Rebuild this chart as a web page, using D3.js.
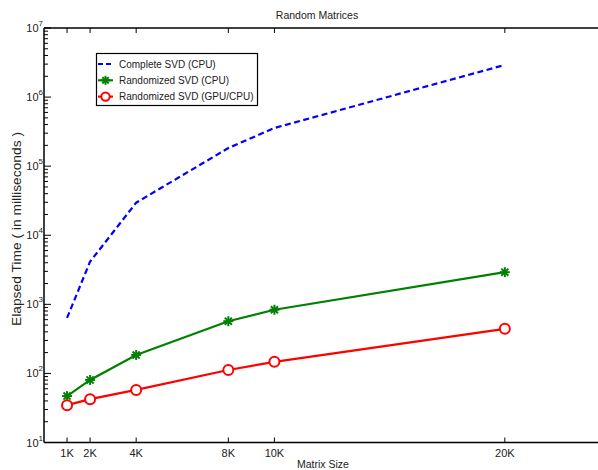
<!DOCTYPE html>
<html>
<head>
<meta charset="utf-8">
<script src="https://cdn.jsdelivr.net/npm/d3@7"></script>
<style>
  html, body { margin: 0; padding: 0; background: #fff; }
  svg { display: block; font-family: "Liberation Sans", Arial, sans-serif; }
</style>
</head>
<body>
<svg id="chart" width="598" height="470"></svg>
<script>
// Matrix sizes and timings in milliseconds
const sizes = [1000, 2000, 4000, 8000, 10000, 20000];
const sizeLabels = ["1K", "2K", "4K", "8K", "10K", "20K"];
const completeCPU = [635, 4150, 29600, 183000, 357000, 2920000];
const randomizedCPU = [47, 80.5, 185, 570, 835, 2920];
const randomizedGPU = [34.7, 42.4, 57.7, 112, 147, 442];
const yDecades = [1, 2, 3, 4, 5, 6, 7];

const svg = d3.select("#chart");
const plotL = 44, plotR = 597, plotT = 28, plotB = 442.5;

const x = d3.scaleLinear().domain([0, 24000]).range([plotL, plotR]);
const y = d3.scaleLog().domain([10, 1e7]).range([plotB, plotT]);

// y ticks: minor log ticks plus major decades
const minor = [];
for (let e = 1; e < 7; e++) for (let m = 2; m <= 9; m++) minor.push(m * Math.pow(10, e));

const g = svg.append("g");
g.selectAll(".ymin").data(minor).enter().append("line")
  .attr("x1", plotL).attr("x2", plotL + 4)
  .attr("y1", d => y(d)).attr("y2", d => y(d))
  .attr("stroke", "#000").attr("stroke-width", 1);
g.selectAll(".ymaj").data(yDecades).enter().append("line")
  .attr("x1", plotL).attr("x2", plotL + 7)
  .attr("y1", d => y(Math.pow(10, d))).attr("y2", d => y(Math.pow(10, d)))
  .attr("stroke", "#000").attr("stroke-width", 1);

// y tick labels as 10^n
const yl = g.selectAll(".ylab").data(yDecades).enter().append("text")
  .attr("x", 43).attr("y", d => y(Math.pow(10, d)) + 4)
  .attr("text-anchor", "end").attr("font-size", 11).attr("fill", "#222");
yl.append("tspan").text("10");
yl.append("tspan").attr("dy", -6).attr("font-size", 8).text(d => d);

// x ticks at bottom (pointing up) and top (pointing down)
g.selectAll(".xb").data(sizes).enter().append("line")
  .attr("x1", d => x(d)).attr("x2", d => x(d))
  .attr("y1", plotB).attr("y2", plotB - 5)
  .attr("stroke", "#000").attr("stroke-width", 1);
g.selectAll(".xt").data(sizes).enter().append("line")
  .attr("x1", d => x(d)).attr("x2", d => x(d))
  .attr("y1", plotT).attr("y2", plotT + 5)
  .attr("stroke", "#000").attr("stroke-width", 1);
g.selectAll(".xlab").data(sizes).enter().append("text")
  .attr("x", d => x(d)).attr("y", 457)
  .attr("text-anchor", "middle").attr("font-size", 11).attr("fill", "#222")
  .text((d, i) => sizeLabels[i]);

// axes frame (left, bottom, top)
g.append("line").attr("x1", plotL).attr("x2", plotL).attr("y1", plotT).attr("y2", plotB)
  .attr("stroke", "#000").attr("stroke-width", 1.5);
g.append("line").attr("x1", plotL).attr("x2", 598).attr("y1", plotB).attr("y2", plotB)
  .attr("stroke", "#000").attr("stroke-width", 1.5);
g.append("line").attr("x1", plotL).attr("x2", 598).attr("y1", plotT).attr("y2", plotT)
  .attr("stroke", "#000").attr("stroke-width", 1.5);

// titles
svg.append("text").attr("x", 317).attr("y", 19).attr("text-anchor", "middle")
  .attr("font-size", 10.5).attr("fill", "#222")
  .text("Random Matrices");
svg.append("text").attr("x", 323).attr("y", 468).attr("text-anchor", "middle")
  .attr("font-size", 10.5).attr("fill", "#222")
  .text("Matrix Size");
svg.append("text").attr("transform", "translate(21,229) rotate(-90)")
  .attr("text-anchor", "middle").attr("font-size", 12).attr("fill", "#222")
  .attr("textLength", 194).attr("lengthAdjust", "spacingAndGlyphs")
  .text("Elapsed Time ( in milliseconds )");

const line = d3.line().x(d => x(d[0])).y(d => y(d[1]));

// Complete SVD (dashed blue)
svg.append("path").datum(sizes.map((s, i) => [s, completeCPU[i]]))
  .attr("d", line).attr("fill", "none").attr("stroke", "#0000ff")
  .attr("stroke-width", 2.2).attr("stroke-dasharray", "6,3.5");

// asterisk marker
function star(sel, cx, cy, r) {
  const gg = sel.append("g").attr("transform", `translate(${cx},${cy})`);
  for (let k = 0; k < 4; k++) {
    const a = k * Math.PI / 4;
    gg.append("line")
      .attr("x1", -r * Math.cos(a)).attr("y1", -r * Math.sin(a))
      .attr("x2", r * Math.cos(a)).attr("y2", r * Math.sin(a))
      .attr("stroke", "#008000").attr("stroke-width", 2);
  }
}

// Randomized SVD CPU (green, asterisks)
svg.append("path").datum(sizes.map((s, i) => [s, randomizedCPU[i]]))
  .attr("d", line).attr("fill", "none").attr("stroke", "#008000").attr("stroke-width", 2.2);
sizes.forEach((s, i) => star(svg, x(s), y(randomizedCPU[i]), 5));

// Randomized SVD GPU/CPU (red, circles)
svg.append("path").datum(sizes.map((s, i) => [s, randomizedGPU[i]]))
  .attr("d", line).attr("fill", "none").attr("stroke", "#ff0000").attr("stroke-width", 2.2);
svg.selectAll(".rc").data(sizes).enter().append("circle")
  .attr("cx", d => x(d)).attr("cy", (d, i) => y(randomizedGPU[i])).attr("r", 5)
  .attr("fill", "#fff").attr("stroke", "#ff0000").attr("stroke-width", 2);

// legend
const lg = svg.append("g");
lg.append("rect").attr("x", 96.5).attr("y", 53.5).attr("width", 161).attr("height", 52)
  .attr("fill", "#fff").attr("stroke", "#000").attr("stroke-width", 1.2);
const entries = [
  { label: "Complete SVD (CPU)", color: "#0000ff", dash: "5,3", mark: null },
  { label: "Randomized SVD (CPU)", color: "#008000", dash: null, mark: "star" },
  { label: "Randomized SVD (GPU/CPU)", color: "#ff0000", dash: null, mark: "circle" }
];
entries.forEach((e, i) => {
  const ey = 64 + i * 16.3;
  lg.append("line").attr("x1", 98).attr("x2", 113).attr("y1", ey).attr("y2", ey)
    .attr("stroke", e.color).attr("stroke-width", 2.2)
    .attr("stroke-dasharray", e.dash);
  if (e.mark === "star") star(lg, 105.5, ey, 4.5);
  if (e.mark === "circle") lg.append("circle").attr("cx", 105.5).attr("cy", ey).attr("r", 4.2)
    .attr("fill", "#fff").attr("stroke", e.color).attr("stroke-width", 2);
  lg.append("text").attr("x", 119).attr("y", ey + 3.8).attr("font-size", 10)
    .attr("fill", "#222").text(e.label);
});
</script>
</body>
</html>
